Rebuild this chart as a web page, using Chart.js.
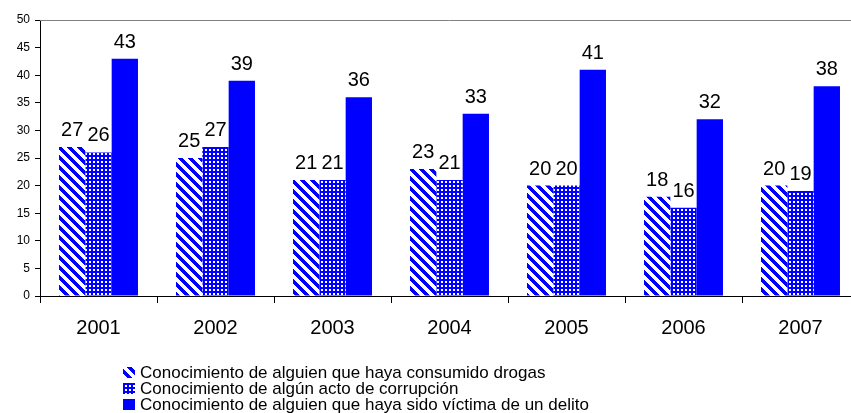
<!DOCTYPE html>
<html>
<head>
<meta charset="utf-8">
<script src="https://cdn.jsdelivr.net/npm/chart.js@4.4.0/dist/chart.umd.min.js"></script>
<style>
    html, body { margin: 0; padding: 0; background: #fff; overflow: hidden; }
    #wrap { position: relative; width: 870px; height: 413px; }
</style>
</head>
<body>
<div id="wrap"><canvas id="barChart"></canvas></div>
<script>
// Data
const years = ['2001', '2002', '2003', '2004', '2005', '2006', '2007'];
const drogas = [27, 25, 21, 23, 20, 18, 20];
const corrupcion = [26, 27, 21, 21, 20, 16, 19];
const delito = [43, 39, 36, 33, 41, 32, 38];
const seriesNames = [
    'Conocimiento de alguien que haya consumido drogas',
    'Conocimiento de algún acto de corrupción',
    'Conocimiento de alguien que haya sido víctima de un delito'
];

const BLUE = '#0000FF';
const FONT = '"Liberation Sans", Arial, sans-serif';

// Patterns
function stripePattern() {
    const c = document.createElement('canvas');
    c.width = 10; c.height = 10;
    const g = c.getContext('2d');
    g.fillStyle = '#fff';
    g.fillRect(0, 0, 10, 10);
    g.fillStyle = BLUE;
    for (let y = 0; y < 10; y++) {
        for (let x = 0; x < 10; x++) {
            if (((x - y) % 10 + 10) % 10 < 5) g.fillRect(x, y, 1, 1);
        }
    }
    return g.createPattern(c, 'repeat');
}

function checkPattern() {
    const c = document.createElement('canvas');
    c.width = 4; c.height = 4;
    const g = c.getContext('2d');
    g.fillStyle = BLUE;
    g.fillRect(0, 0, 4, 4);
    g.fillStyle = '#fff';
    g.fillRect(1, 1, 2, 2);
    return g.createPattern(c, 'repeat');
}

const fills = [stripePattern(), checkPattern(), BLUE];

// Plot frame (top border line)
const framePlugin = {
    id: 'frame',
    beforeDatasetsDraw(chart) {
        const { ctx, chartArea: a } = chart;
        ctx.save();
        ctx.strokeStyle = '#808080';
        ctx.lineWidth = 1;
        ctx.beginPath();
        ctx.moveTo(a.left, a.top + 0.5);
        ctx.lineTo(a.right, a.top + 0.5);
        ctx.stroke();
        ctx.restore();
    }
};

// Values above bars
const valueLabels = {
    id: 'valueLabels',
    afterDatasetsDraw(chart) {
        const ctx = chart.ctx;
        ctx.save();
        ctx.font = '20px ' + FONT;
        ctx.fillStyle = '#000';
        ctx.textAlign = 'center';
        ctx.textBaseline = 'alphabetic';
        chart.data.datasets.forEach((ds, i) => {
            chart.getDatasetMeta(i).data.forEach((bar, j) => {
                ctx.fillText(ds.data[j], bar.x, bar.y - 11);
            });
        });
        ctx.restore();
    }
};

// Stacked legend at the bottom left
const stackLegend = {
    id: 'stackLegend',
    afterDraw(chart) {
        const ctx = chart.ctx;
        ctx.save();
        ctx.font = '17px ' + FONT;
        ctx.textBaseline = 'alphabetic';
        ctx.textAlign = 'left';
        chart.data.datasets.forEach((ds, i) => {
            const base = 378 + i * 16;
            ctx.fillStyle = ds.backgroundColor;
            ctx.fillRect(123, base - 11, 12, 11);
            ctx.fillStyle = '#000';
            ctx.fillText(ds.label, 140, base);
        });
        ctx.restore();
    }
};

const ctx = document.getElementById('barChart').getContext('2d');
const chart = new Chart(ctx, {
    type: 'bar',
    data: {
        labels: years,
        datasets: [
            { label: seriesNames[0], data: drogas, backgroundColor: fills[0] },
            { label: seriesNames[1], data: corrupcion, backgroundColor: fills[1] },
            { label: seriesNames[2], data: delito, backgroundColor: fills[2] }
        ]
    },
    options: {
        responsive: true,
        maintainAspectRatio: false,
        animation: false,
        datasets: {
            bar: {
                categoryPercentage: 0.675,
                barPercentage: 1.0,
                borderWidth: 0
            }
        },
        layout: {
            padding: { left: 0, top: 20, right: 11, bottom: 72 }
        },
        plugins: {
            legend: { display: false },
            tooltip: { enabled: false }
        },
        scales: {
            x: {
                grid: {
                    drawOnChartArea: false,
                    drawTicks: true,
                    tickLength: 7,
                    color: '#000'
                },
                border: { color: '#000' },
                ticks: {
                    color: '#000',
                    font: { family: FONT, size: 20 },
                    padding: 13
                },
                afterFit(scale) { scale.height = 45; }
            },
            y: {
                min: 0,
                max: 50,
                grid: {
                    drawOnChartArea: false,
                    drawTicks: true,
                    tickLength: 5,
                    color: '#000'
                },
                border: { color: '#000' },
                ticks: {
                    stepSize: 5,
                    color: '#000',
                    font: { family: FONT, size: 12 },
                    padding: 5
                },
                afterFit(scale) { scale.width = 40; }
            }
        }
    },
    plugins: [framePlugin, valueLabels, stackLegend]
});
</script>
</body>
</html>
